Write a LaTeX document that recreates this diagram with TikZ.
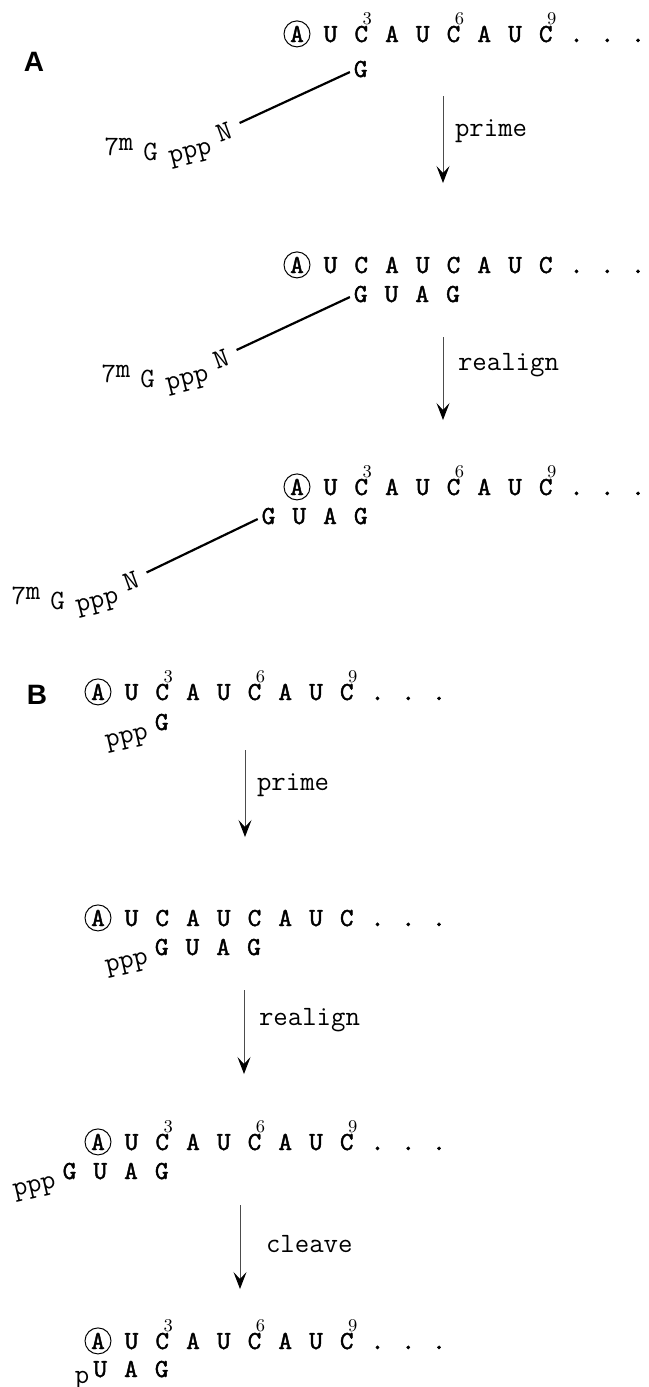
\documentclass[tikz,border=0pt]{standalone}
\usepackage{fontspec}
\usepackage{graphicx}
\usetikzlibrary{positioning,arrows.meta}

\newfontfamily\panelfnt{Liberation Sans}
\newfontfamily\rnabold{lmmono10-regular.otf}[FakeBold=1.6]
\newcommand{\seqfnt}{\rnabold\fontsize{13}{15}\selectfont\frenchspacing\spaceskip=8.55pt\relax}
\newcommand{\txtfnt}{\ttfamily\mdseries\fontsize{14}{16}\selectfont}
\newcommand{\numfnt}{\rmfamily\mdseries\fontsize{9}{10}\selectfont}
% a C with its position number above it
\newcommand{\posC}[1]{\rlap{\raisebox{8.8pt}{\kern4.1pt\numfnt #1}}C}
% the capped end of the primer
\newcommand{\capstr}{\raisebox{2.5pt}{7}\raisebox{5pt}{m}\kern5pt G\kern5pt%
    \raisebox{-1.5pt}{\rotatebox{14}{ppp}}\raisebox{9pt}{\rotatebox{20}{N}}}

\begin{document}
\begin{tikzpicture}[x=0.5pt,y=-0.5pt,
   tight/.style = {inner sep=0pt, outer sep=0pt},
    ring/.style = {circle, draw, line width=0.5pt, inner sep=0pt,
                   minimum size=13pt, font=\seqfnt, anchor=base},
     row/.style = {tight, font=\seqfnt},
  strand/.style = {tight, font=\seqfnt, anchor=base west},
  capend/.style = {tight, font=\txtfnt, anchor=base west},
    phos/.style = {tight, font=\txtfnt},
   panel/.style = {tight, font=\panelfnt\bfseries\fontsize{14}{16}\selectfont},
    link/.style = {line width=1.1pt},
    move/.style = {draw=black!70, line width=0.5pt,
                   -{Stealth[length=8.5pt,width=6.5pt,inset=3.5pt,color=black]}},
     tag/.style = {tight, font=\txtfnt, right=6pt}
                    ]
\useasboundingbox (0,0) rectangle (648,1387);
% the panel letters
\node (pA) [panel] at (34,62)  {A};
\node (pB) [panel] at (37,695) {B};
% panel A, capped primer
\node (a1) [ring] at (297,42) {A};
\node (r1) [row, base right=6.6pt of a1] {U \posC{3} A U \posC{6} A U \posC{9} . . .};
\node (s1) [strand] at (353.9,77) {G};
\node (cap1) [capend] at (104.5,160) {\capstr};
\draw[link] ([shift={(6,2)}]cap1.north east) -- ([shift={(-4,3)}]s1.west);

\coordinate (m1a) at (443,96);
\coordinate (m1b) at (443,183);
\draw[move] (m1a) -- node[tag, pos=.41] {prime} (m1b);

\node (a2) [ring] at (297,273) {A};
\node (r2) [row, base right=6.6pt of a2] {U C A U C A U C . . .};
\node (s2) [strand] at (353.9,302) {G U A G};
\node (cap2) [capend] at (101.5,387) {\capstr};
\draw[link] ([shift={(6,2)}]cap2.north east) -- ([shift={(-4,3)}]s2.west);

\coordinate (m2a) at (443,337);
\coordinate (m2b) at (443,420);
\draw[move] (m2a) -- node[tag, pos=.34, right=7.5pt] {realign} (m2b);

\node (a3) [ring] at (297,495) {A};
\node (r3) [row, base right=6.6pt of a3] {U \posC{3} A U \posC{6} A U \posC{9} . . .};
\node (s3) [strand] at (261.7,524) {G U A G};
\node (cap3) [capend] at (11.5,609.5) {\capstr};
\draw[link] ([shift={(6,2)}]cap3.north east) -- ([shift={(-4,3)}]s3.west);

% panel B, uncapped primer
\node (b1) [ring] at (98,700) {A};
\node (r4) [row, base right=6.6pt of b1] {U \posC{3} A U \posC{6} A U \posC{9} . . .};
\node (s4) [strand] at (154.9,730) {G};
\node (pp4) [phos, rotate=13, below left=4pt and 3pt of s4.base west, anchor=base east] {ppp};

\coordinate (m3a) at (245,750);
\coordinate (m3b) at (245,837);
\draw[move] (m3a) -- node[tag, pos=.40] {prime} (m3b);

\node (b2) [ring] at (98,926) {A};
\node (r5) [row, base right=6.6pt of b2] {U C A U C A U C . . .};
\node (s5) [strand] at (154.9,955) {G U A G};
\node (pp5) [phos, rotate=13, below left=4pt and 3pt of s5.base west, anchor=base east] {ppp};

\coordinate (m4a) at (244,990);
\coordinate (m4b) at (244,1074);
\draw[move] (m4a) -- node[tag, pos=.36, right=7.5pt] {realign} (m4b);

\node (b3) [ring] at (98,1150) {A};
\node (r6) [row, base right=6.6pt of b3] {U \posC{3} A U \posC{6} A U \posC{9} . . .};
\node (s6) [strand] at (62.7,1179) {G U A G};
\node (pp6) [phos, rotate=13, below left=4pt and 3pt of s6.base west, anchor=base east] {ppp};

\coordinate (m5a) at (240,1205);
\coordinate (m5b) at (240,1289);
\draw[move] (m5a) -- node[tag, pos=.46, right=13pt] {cleave} (m5b);

\node (b4) [ring] at (98,1349) {A};
\node (r7) [row, base right=6.6pt of b4] {U \posC{3} A U \posC{6} A U \posC{9} . . .};
\node (s7) [strand] at (93.4,1377) {U A G};
\node (pp7) [phos, below left=3pt and 2pt of s7.base west, anchor=base east] {p};
\end{tikzpicture}
\end{document}
